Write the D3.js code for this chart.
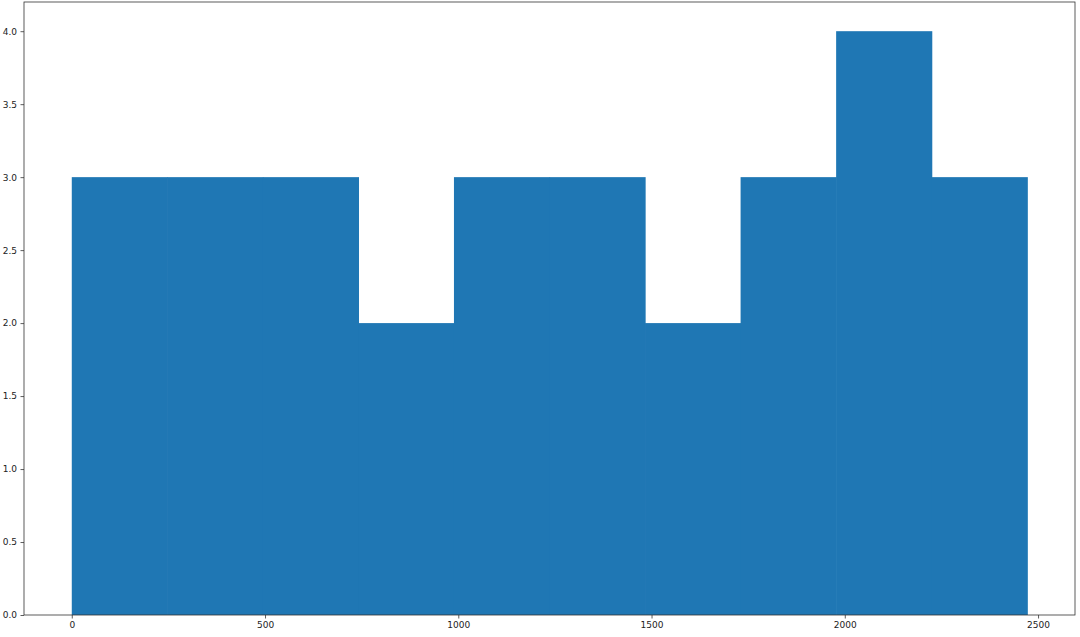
<!DOCTYPE html>
<html><head><meta charset="utf-8">
<script src="https://cdn.jsdelivr.net/npm/d3@7"></script>
<style>body{margin:0;background:#fff}svg{display:block}text{font-family:"DejaVu Sans",sans-serif}</style>
</head><body>
<svg id="c" width="1080" height="637"></svg>
<script>
const binEdges = [0, 247.2, 494.4, 741.6, 988.8, 1236, 1483.2, 1730.4, 1977.6, 2224.8, 2472];
const counts = [3, 3, 3, 2, 3, 3, 2, 3, 4, 3];
const xTicks = [0, 500, 1000, 1500, 2000, 2500];
const yTicks = [0, 0.5, 1, 1.5, 2, 2.5, 3, 3.5, 4];

const svg = d3.select("#c");
const L = 24, R = 1075, T = 2, B = 615;
const span = binEdges[binEdges.length-1] - binEdges[0];
const x = d3.scaleLinear().domain([binEdges[0] - span*0.05, binEdges[binEdges.length-1] + span*0.05]).range([L, R]);
const y = d3.scaleLinear().domain([0, 4.2]).range([B, T]);

const bins = counts.map((c, i) => ({x0: binEdges[i], x1: binEdges[i+1], c}));
svg.append("g").selectAll("rect").data(bins).join("rect")
  .attr("x", d => x(d.x0)).attr("width", d => x(d.x1) - x(d.x0) + 0.6)
  .attr("y", d => y(d.c)).attr("height", d => y(0) - y(d.c))
  .attr("fill", "#1f77b4");

const xa = svg.append("g").attr("transform", `translate(0,${B})`)
  .call(d3.axisBottom(x).tickValues(xTicks).tickFormat(d3.format("d")).tickSize(3.5).tickPadding(3.5));
const ya = svg.append("g").attr("transform", `translate(${L},0)`)
  .call(d3.axisLeft(y).tickValues(yTicks).tickFormat(d3.format(".1f")).tickSize(3.5).tickPadding(3.5));
[xa, ya].forEach(a => {
  a.select(".domain").remove();
  a.selectAll("text").attr("font-size", 9).attr("fill", "#222").style("font-family", "DejaVu Sans");
  a.selectAll("line").attr("stroke", "#333").attr("stroke-width", 0.8);
});
svg.append("rect").attr("x", L).attr("y", T).attr("width", R - L).attr("height", B - T)
  .attr("fill", "none").attr("stroke", "#333").attr("stroke-width", 0.8);
</script>
</body></html>
